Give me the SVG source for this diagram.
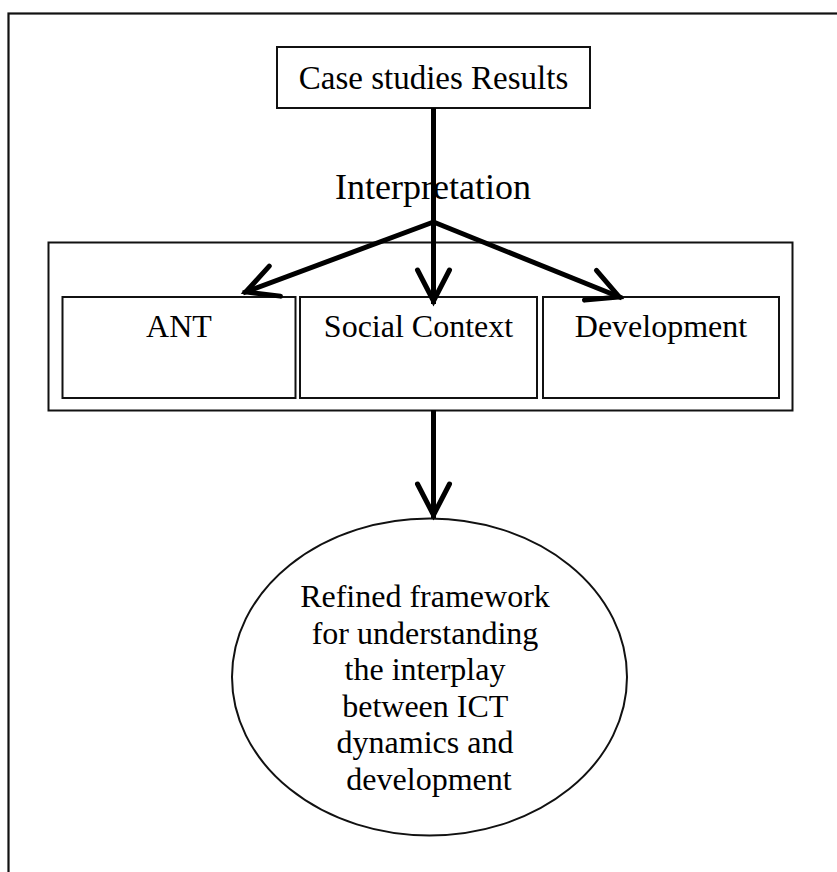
<svg xmlns="http://www.w3.org/2000/svg" width="837" height="872" viewBox="0 0 837 872">
  <style>
    .box { fill: #ffffff; stroke: #111111; stroke-width: 2; }
    .label { font-family: "Liberation Serif", "Times New Roman", serif; fill: #000000; text-anchor: middle; }
    .conn { stroke: #000000; stroke-width: 5; fill: none; }
  </style>
  <defs>
    <marker id="vhead" markerUnits="userSpaceOnUse" markerWidth="60" markerHeight="60"
            viewBox="-50 -30 60 60" refX="0" refY="0" orient="auto" overflow="visible">
      <path d="M-34,-16 L-3,0 L-34,16" fill="none" stroke="#000000" stroke-width="5" stroke-linejoin="miter" stroke-linecap="round"/>
    </marker>
  </defs>

  <rect width="837" height="872" fill="#ffffff"/>

  <!-- page frame -->
  <rect id="frame" x="8.5" y="13.5" width="900" height="900" fill="none" stroke="#111111" stroke-width="2.2"/>

  <g id="case-studies">
    <rect class="box" x="277" y="47" width="313" height="61"/>
    <text class="label" x="433.5" y="89" font-size="33">Case studies Results</text>
  </g>

  <g id="interpretation">
    <rect class="box" x="48.5" y="242.5" width="744" height="168"/>
    <text class="label" x="433" y="199" font-size="36">Interpretation</text>
  </g>

  <g id="ant">
    <rect class="box" x="62.5" y="297" width="233" height="101"/>
    <text class="label" x="179" y="337" font-size="32">ANT</text>
  </g>

  <g id="social-context">
    <rect class="box" x="300" y="297" width="237" height="101"/>
    <text class="label" x="418.5" y="337" font-size="32">Social Context</text>
  </g>

  <g id="development">
    <rect class="box" x="543" y="297" width="236" height="101"/>
    <text class="label" x="661" y="337" font-size="32">Development</text>
  </g>

  <g id="framework">
    <ellipse class="box" cx="429.5" cy="677" rx="197.5" ry="158.5"/>
    <text class="label" font-size="32">
      <tspan x="429" y="607">Refined framework</tspan>
      <tspan x="429" y="643.5">for understanding</tspan>
      <tspan x="429" y="680">the interplay</tspan>
      <tspan x="429" y="716.5">between ICT</tspan>
      <tspan x="429" y="753">dynamics and</tspan>
      <tspan x="429" y="789.5">development</tspan>
    </text>
  </g>

  <g id="connectors">
    <line class="conn" x1="433.5" y1="108" x2="433.5" y2="304" marker-end="url(#vhead)"/>
    <line class="conn" x1="433.5" y1="222" x2="243" y2="293" marker-end="url(#vhead)"/>
    <line class="conn" x1="433.5" y1="222" x2="622" y2="298" marker-end="url(#vhead)"/>
    <line class="conn" x1="433.5" y1="410" x2="433.5" y2="518" marker-end="url(#vhead)"/>
  </g>
</svg>
